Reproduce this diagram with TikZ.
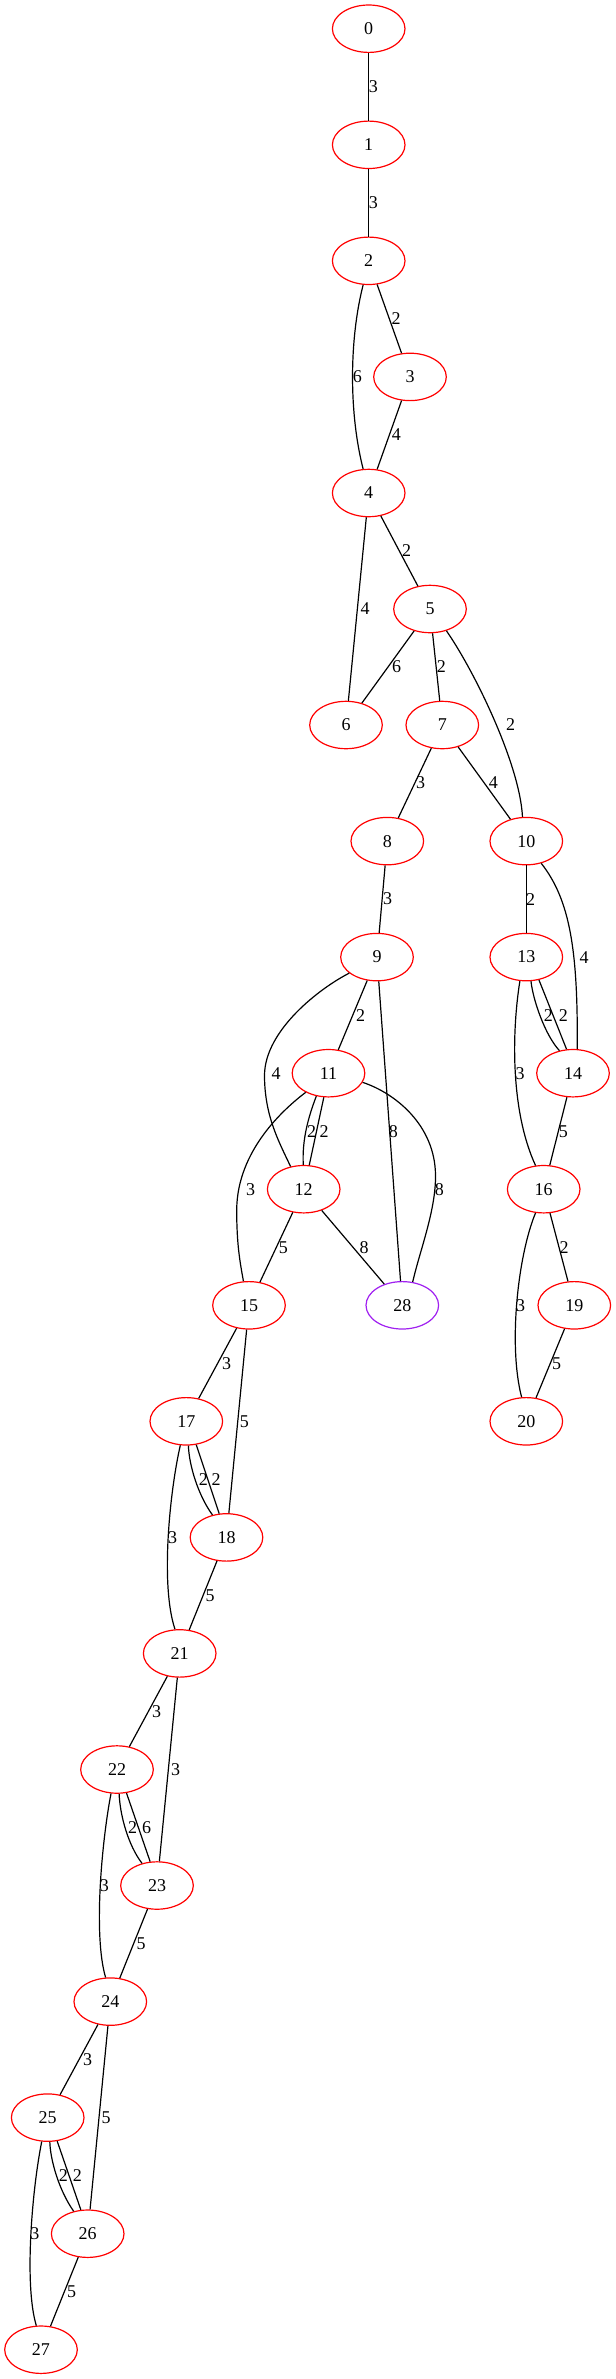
\documentclass[tikz,border=0pt]{standalone}
\usepackage{fontspec}
\setmainfont{Liberation Serif}
\usetikzlibrary{shapes.geometric}
\definecolor{gvpurple}{RGB}{160,32,240}
\begin{document}
\begin{tikzpicture}[x=0.5pt,y=-0.5pt,
  vnode/.style={ellipse,draw=red,line width=0.6pt,minimum width=36.3pt,minimum height=23.7pt,inner sep=0pt,font=\fontsize{9}{10}\selectfont},
  elabel/.style={font=\fontsize{9}{10}\selectfont,inner sep=0pt},
  conn/.style={line width=0.6pt,black}]
\useasboundingbox (0,0) rectangle (616,2379);
% nodes
\node[vnode] (n0) at (368.7,28.7) {0};
\node[vnode] (n1) at (368.7,144.8) {1};
\node[vnode] (n2) at (368.7,260.8) {2};
\node[vnode] (n3) at (410,376.9) {3};
\node[vnode] (n4) at (368.7,493.0) {4};
\node[vnode] (n5) at (430,609.0) {5};
\node[vnode] (n6) at (346,725.0) {6};
\node[vnode] (n7) at (442.3,725.0) {7};
\node[vnode] (n8) at (387.3,841.1) {8};
\node[vnode] (n10) at (526.3,841.1) {10};
\node[vnode] (n9) at (377,957.1) {9};
\node[vnode] (n13) at (526.3,957.1) {13};
\node[vnode] (n11) at (328.5,1073.2) {11};
\node[vnode] (n14) at (573,1073.2) {14};
\node[vnode] (n12) at (303.7,1189.2) {12};
\node[vnode] (n16) at (543.7,1189.2) {16};
\node[vnode] (n15) at (249,1305.3) {15};
\node[vnode,draw=gvpurple] (n28) at (402.3,1305.3) {28};
\node[vnode] (n19) at (574.3,1305.3) {19};
\node[vnode] (n17) at (186.3,1421.3) {17};
\node[vnode] (n20) at (526.3,1421.3) {20};
\node[vnode] (n18) at (226.5,1537.4) {18};
\node[vnode] (n21) at (179.7,1653.4) {21};
\node[vnode] (n22) at (117,1769.5) {22};
\node[vnode] (n23) at (157,1885.5) {23};
\node[vnode] (n24) at (110.3,2001.6) {24};
\node[vnode] (n25) at (47.7,2117.6) {25};
\node[vnode] (n26) at (87.7,2233.7) {26};
\node[vnode] (n27) at (41,2349.7) {27};
% straight edges
\draw[conn] (n0) -- (n1);
\draw[conn] (n1) -- (n2);
\draw[conn] (n2) -- (n3);
\draw[conn] (n3) -- (n4);
\draw[conn] (n4) -- (n5);
\draw[conn] (n4) -- (n6);
\draw[conn] (n5) -- (n6);
\draw[conn] (n5) -- (n7);
\draw[conn] (n7) -- (n8);
\draw[conn] (n7) -- (n10);
\draw[conn] (n8) -- (n9);
\draw[conn] (n9) -- (n11);
\draw[conn] (n9) -- (n28);
\draw[conn] (n10) -- (n13);
\draw[conn] (n12) -- (n15);
\draw[conn] (n12) -- (n28);
\draw[conn] (n14) -- (n16);
\draw[conn] (n16) -- (n19);
\draw[conn] (n19) -- (n20);
\draw[conn] (n15) -- (n17);
\draw[conn] (n15) -- (n18);
\draw[conn] (n18) -- (n21);
\draw[conn] (n21) -- (n22);
\draw[conn] (n21) -- (n23);
\draw[conn] (n23) -- (n24);
\draw[conn] (n24) -- (n25);
\draw[conn] (n24) -- (n26);
\draw[conn] (n26) -- (n27);
% curved edges
\draw[conn] (n2.257) .. controls (349,340) and (349,414) .. (n4.103);
\draw[conn] (n5.-53) .. controls (475,672) and (520,765) .. (n10.99);
\draw[conn] (n9.210) .. controls (320,988) and (265,1030) .. (264.5,1075) .. controls (264.5,1115) and (278,1140) .. (n12.120);
\draw[conn] (n10.-56) .. controls (570,900) and (578,950) .. (n14.80);
\draw[conn] (n13.255) .. controls (512,1030) and (510,1110) .. (n16.109);
\draw[conn] (n16.251) .. controls (518,1255) and (508,1345) .. (n20.101);
\draw[conn] (n11.220) .. controls (285,1108) and (237,1150) .. (236.7,1210) .. controls (236.7,1245) and (240,1262) .. (n15.103);
\draw[conn] (n11.-15) .. controls (395,1093) and (435,1125) .. (435.5,1175) .. controls (436,1210) and (420,1250) .. (n28.66);
\draw[conn] (n17.256) .. controls (170,1490) and (160,1585) .. (n21.101);
\draw[conn] (n22.256) .. controls (102,1840) and (93,1935) .. (n24.101);
\draw[conn] (n25.256) .. controls (32,2190) and (24,2285) .. (n27.101);
% double edges
\draw[conn] (n11.242) .. controls (308,1118) and (302,1140) .. (n12.91);
\draw[conn] (n11.259) -- (n12.77);
\draw[conn] (n13.-79) .. controls (533,1000) and (545,1035) .. (n14.121);
\draw[conn] (n13.-61) -- (n14.105);
\draw[conn] (n17.-85) .. controls (189,1465) and (198,1495) .. (n18.122);
\draw[conn] (n17.-67) -- (n18.107);
\draw[conn] (n22.-85) .. controls (120,1815) and (128,1845) .. (n23.124);
\draw[conn] (n22.-68) -- (n23.106);
\draw[conn] (n25.-85) .. controls (50.4,2161) and (59.4,2191) .. (n26.122);
\draw[conn] (n25.-68) -- (n26.106);
% edge labels
\node[elabel] (l01) at (373.3,86.7) {3};
\node[elabel] (l12) at (373.3,202.8) {3};
\node[elabel] (l23) at (396,318.8) {2};
\node[elabel] (l24) at (357.3,376.9) {6};
\node[elabel] (l34) at (396.3,434.9) {4};
\node[elabel] (l45) at (406.7,550.9) {2};
\node[elabel] (l46) at (365,609.0) {4};
\node[elabel] (l56) at (396.7,667.0) {6};
\node[elabel] (l57) at (441.3,667.0) {2};
\node[elabel] (l510) at (510.7,725.0) {2};
\node[elabel] (l78) at (420.7,783.0) {3};
\node[elabel] (l710) at (493.3,783.0) {4};
\node[elabel] (l89) at (387.7,899.1) {3};
\node[elabel] (l1013) at (530.7,899.1) {2};
\node[elabel] (l1014) at (584,957.1) {4};
\node[elabel] (l911) at (360.7,1015.1) {2};
\node[elabel] (l1314a) at (548.3,1015.1) {2};
\node[elabel] (l1314b) at (563.3,1015.1) {2};
\node[elabel] (l912) at (276,1073.2) {4};
\node[elabel] (l1316) at (520,1073.2) {3};
\node[elabel] (l928) at (393.3,1131.2) {8};
\node[elabel] (l1112a) at (311.7,1131.2) {2};
\node[elabel] (l1112b) at (324,1131.2) {2};
\node[elabel] (l1416) at (563.3,1131.2) {5};
\node[elabel] (l1115) at (250.7,1189.2) {3};
\node[elabel] (l1128) at (439.3,1189.2) {8};
\node[elabel] (l1215) at (283.3,1247.2) {5};
\node[elabel] (l1228) at (364,1247.2) {8};
\node[elabel] (l1619) at (564,1247.2) {2};
\node[elabel] (l1620) at (520.7,1305.3) {3};
\node[elabel] (l1920) at (556.7,1363.3) {5};
\node[elabel] (l1517) at (226.7,1363.3) {3};
\node[elabel] (l1518) at (244.3,1421.3) {5};
\node[elabel] (l1718a) at (203.3,1479.3) {2};
\node[elabel] (l1718b) at (216,1479.3) {2};
\node[elabel] (l1721) at (172.7,1537.4) {3};
\node[elabel] (l1821) at (210,1595.4) {5};
\node[elabel] (l2122) at (156.7,1711.4) {3};
\node[elabel] (l2123) at (175.7,1769.5) {3};
\node[elabel] (l2223a) at (132.7,1827.5) {2};
\node[elabel] (l2223b) at (146.7,1827.5) {6};
\node[elabel] (l2224) at (104.3,1885.5) {3};
\node[elabel] (l2324) at (141,1943.5) {5};
\node[elabel] (l2425) at (87.7,2059.6) {3};
\node[elabel] (l2426) at (106,2117.6) {5};
\node[elabel] (l2526a) at (63.3,2175.6) {2};
\node[elabel] (l2526b) at (77.3,2175.6) {2};
\node[elabel] (l2527) at (35,2233.7) {3};
\node[elabel] (l2627) at (71.7,2291.7) {5};
\end{tikzpicture}
\end{document}
